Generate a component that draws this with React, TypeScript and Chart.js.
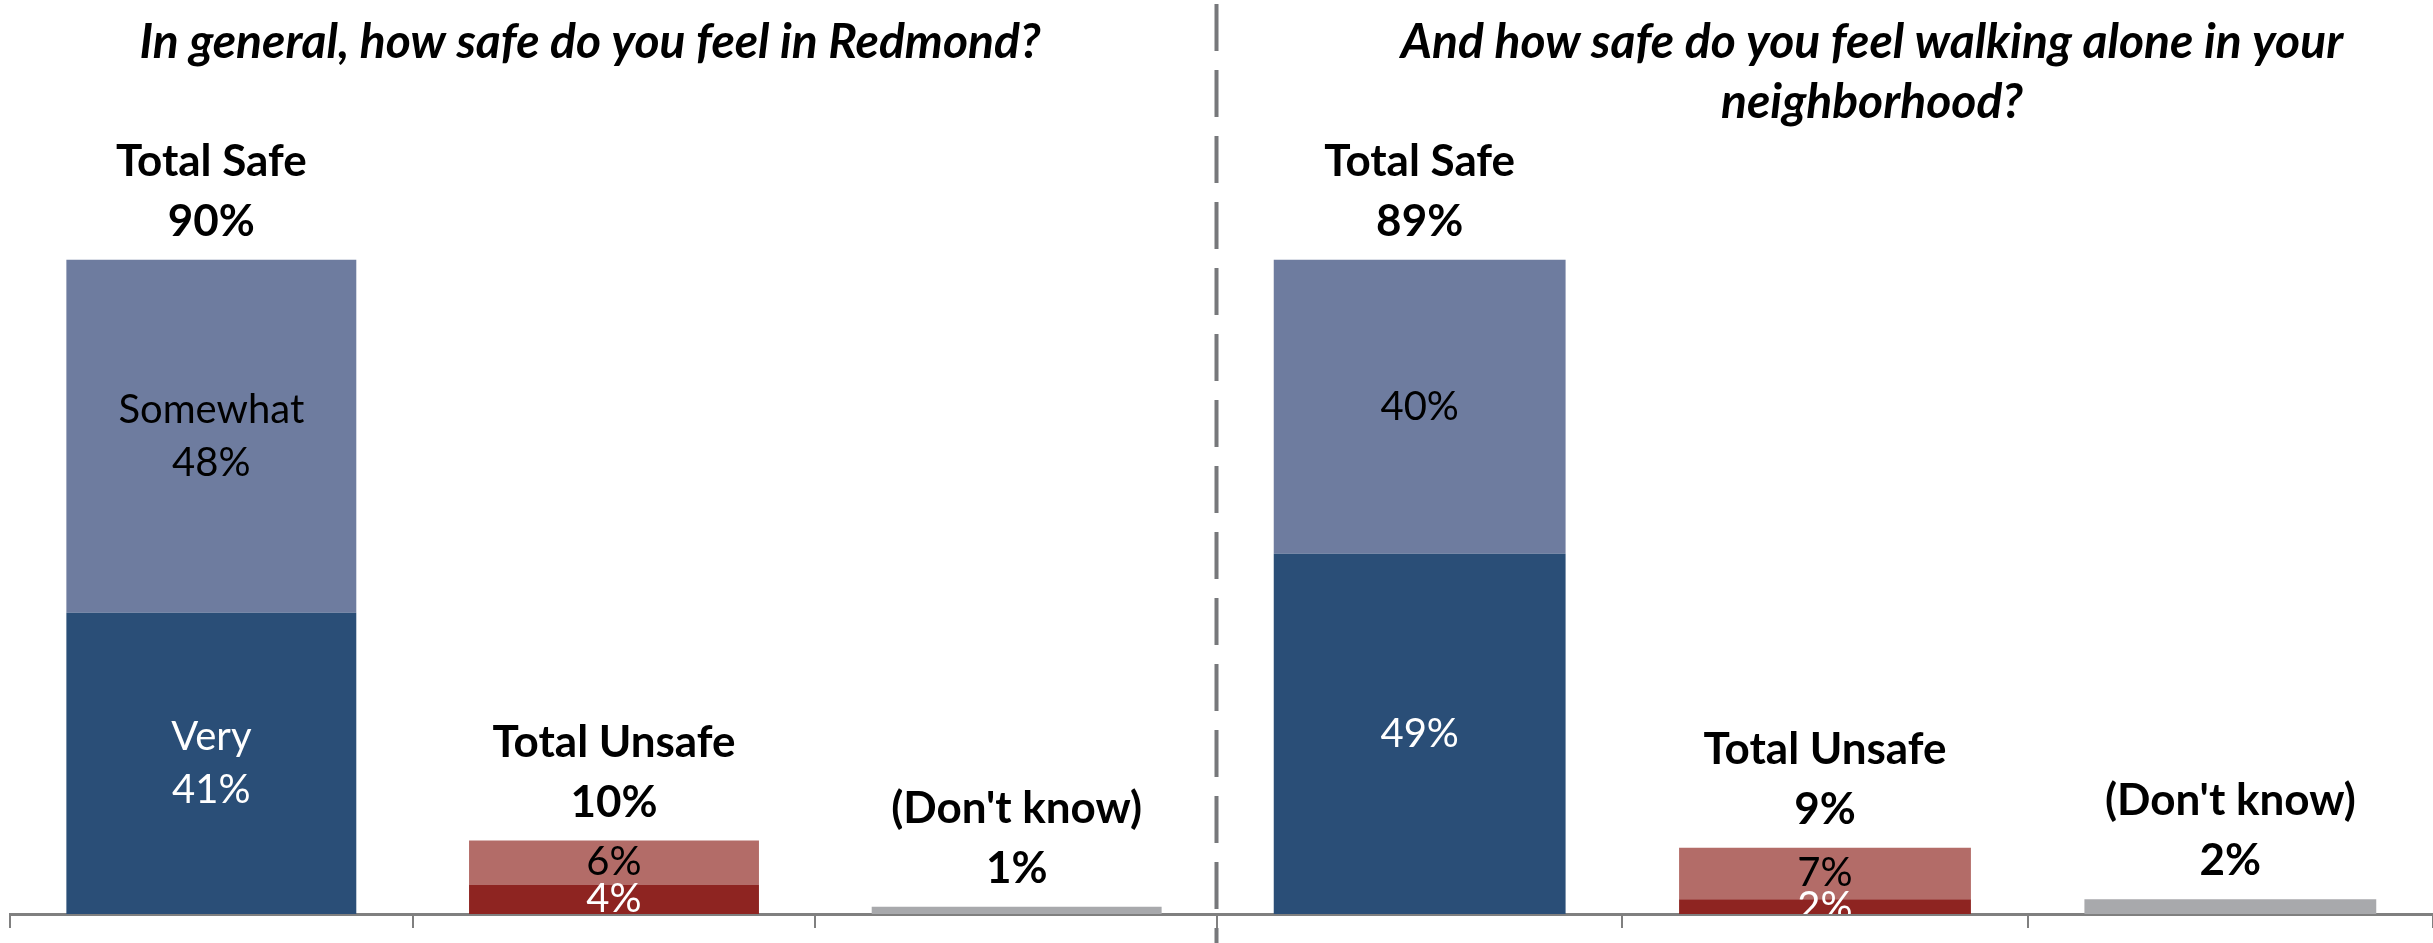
import React, { useEffect, useRef } from 'react';
import { Chart, registerables } from 'chart.js';

Chart.register(...registerables);

// ---- data ----
const categories = ['Total Safe', 'Total Unsafe', "(Don't know)"];

const generalTitle = ['In general, how safe do you feel in Redmond?'];
const generalInner = [41, 4, 1];
const generalOuter = [48, 6, 0];
const generalTotals = [90, 10, 1];
const generalInnerWords = ['Very', '', ''];
const generalOuterWords = ['Somewhat', '', ''];

const walkingTitle = ['And how safe do you feel walking alone in your', 'neighborhood?'];
const walkingInner = [49, 2, 2];
const walkingOuter = [40, 7, 0];
const walkingTotals = [89, 9, 2];
const walkingInnerWords = ['', '', ''];
const walkingOuterWords = ['', '', ''];

// ---- styles ----
const innerColors = ['#2A4E77', '#8E2421', '#A8A9AC'];
const outerColors = ['#6E7C9F', '#B36C68', 'rgba(0,0,0,0)'];
const innerTextColors = ['#FFFFFF', '#FFFFFF', '#000000'];
const outerTextColors = ['#000000', '#000000', '#000000'];
const FAMILY = 'Lato, "Open Sans", sans-serif';
const TITLE_FONT = `italic bold 48px ${FAMILY}`;
const TOTAL_FONT = `bold 44px ${FAMILY}`;
const SEG_FONT = `40px ${FAMILY}`;

function drawText(ctx: CanvasRenderingContext2D, text: string, x: number, y: number, font: string, color: string) {
  ctx.save();
  ctx.font = font;
  ctx.fillStyle = color;
  ctx.textAlign = 'center';
  ctx.textBaseline = 'middle';
  ctx.fillText(text, x, y);
  ctx.restore();
}

const surveyLabels = {
  id: 'surveyLabels',
  afterDatasetsDraw(chart: any, _args: any, opts: any) {
    const ctx: CanvasRenderingContext2D = chart.ctx;
    const area = chart.chartArea;
    const yScale = chart.scales.y;
    const inner: number[] = chart.data.datasets[0].data;
    const outer: number[] = chart.data.datasets[1].data;

    // segment labels (clipped to plot area)
    ctx.save();
    ctx.beginPath();
    ctx.rect(0, 0, chart.width, area.bottom);
    ctx.clip();
    [0, 1].forEach((di) => {
      const meta = chart.getDatasetMeta(di);
      meta.data.forEach((bar: any, i: number) => {
        if (!(outer[i] > 0)) return;
        const v = chart.data.datasets[di].data[i];
        const word = di === 0 ? opts.innerWords[i] : opts.outerWords[i];
        const color = di === 0 ? innerTextColors[i] : outerTextColors[i];
        const lines = word ? [word, `${v}%`] : [`${v}%`];
        const cy = (bar.y + bar.base) / 2;
        const lh = 53;
        lines.forEach((t: string, k: number) => {
          drawText(ctx, t, bar.x, cy + (k - (lines.length - 1) / 2) * lh, SEG_FONT, color);
        });
      });
    });
    ctx.restore();

    // total labels above bars
    const meta0 = chart.getDatasetMeta(0);
    meta0.data.forEach((bar: any, i: number) => {
      const top = yScale.getPixelForValue(inner[i] + outer[i]);
      drawText(ctx, `${opts.totals[i]}%`, bar.x, top - 38, TOTAL_FONT, '#000000');
      drawText(ctx, chart.data.labels[i], bar.x, top - 38 - 60, TOTAL_FONT, '#000000');
    });
  },
  afterDraw(chart: any, _args: any, opts: any) {
    const ctx: CanvasRenderingContext2D = chart.ctx;
    const area = chart.chartArea;
    // question title
    opts.title.forEach((t: string, k: number) => {
      drawText(ctx, t, opts.titleX, 43 + k * 60, TITLE_FONT, '#000000');
    });
    // dashed divider
    if (opts.divider) {
      ctx.save();
      ctx.strokeStyle = '#77787B';
      ctx.lineWidth = 4;
      ctx.setLineDash([47, 19]);
      ctx.beginPath();
      ctx.moveTo(area.left - 0.5, 4);
      ctx.lineTo(area.left - 0.5, chart.height);
      ctx.stroke();
      ctx.restore();
    }
  },
};

function makeConfig(inner: number[], outer: number[], totals: number[], innerWords: string[], outerWords: string[], title: string[], titleX: number, padLeft: number, divider: boolean): any {
  return {
    type: 'bar',
    data: {
      labels: categories,
      datasets: [
        { label: 'Strong', data: inner, backgroundColor: innerColors, borderWidth: 0, barPercentage: 0.72, categoryPercentage: 1 },
        { label: 'Somewhat', data: outer, backgroundColor: outerColors, borderWidth: 0, barPercentage: 0.72, categoryPercentage: 1 },
      ],
    },
    options: {
      responsive: false,
      animation: false,
      layout: { padding: { left: padLeft, right: 0, top: 179, bottom: 15 } },
      plugins: {
        legend: { display: false },
        tooltip: { enabled: false },
        title: { display: false },
        surveyLabels: { totals, innerWords, outerWords, title, titleX, divider },
      },
      scales: {
        x: {
          stacked: true,
          offset: true,
          ticks: { display: false },
          grid: { offset: true, drawOnChartArea: false, drawTicks: true, tickLength: 14, color: '#808080', lineWidth: 2 },
          border: { display: true, color: '#808080', width: 3 },
        },
        y: {
          stacked: true,
          display: false,
          min: 0,
          max: 100,
        },
      },
    },
    plugins: [surveyLabels],
  };
}

function ChartCanvas(props: { config: () => any; left: number; width: number }) {
  const ref = useRef<HTMLCanvasElement | null>(null);
  useEffect(() => {
    if (!ref.current) return;
    const chart = new Chart(ref.current, props.config());
    return () => chart.destroy();
  }, []);
  return (
    <canvas
      ref={ref}
      width={props.width}
      height={943}
      style={{ position: 'absolute', left: props.left, top: 0, width: props.width, height: 943 }}
    />
  );
}

export default function App() {
  useEffect(() => {
    document.body.style.margin = '0';
    document.body.style.background = '#FFFFFF';
  }, []);
  return (
    <div style={{ position: 'relative', width: 2433, height: 943, background: '#FFFFFF', overflow: 'hidden' }}>
      <ChartCanvas
        left={0}
        width={1218}
        config={() => makeConfig(generalInner, generalOuter, generalTotals, generalInnerWords, generalOuterWords, generalTitle, 590, 10, false)}
      />
      <ChartCanvas
        left={1210}
        width={1223}
        config={() => makeConfig(walkingInner, walkingOuter, walkingTotals, walkingInnerWords, walkingOuterWords, walkingTitle, 662, 7, true)}
      />
    </div>
  );
}
